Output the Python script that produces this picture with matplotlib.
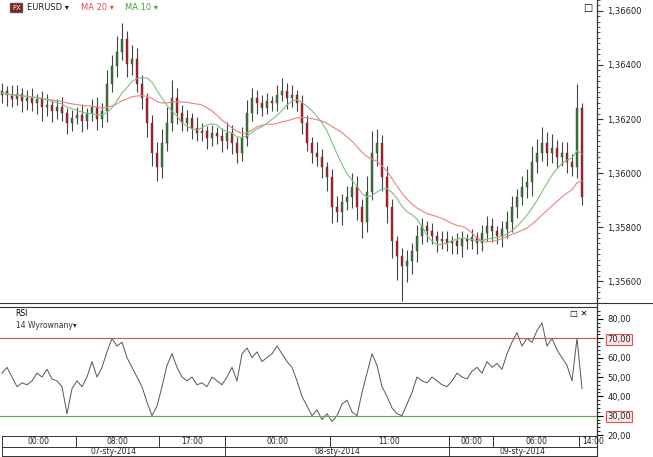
import matplotlib
matplotlib.use("Agg")
import matplotlib.pyplot as plt
import numpy as np
import pandas as pd
from matplotlib.lines import Line2D
from matplotlib.patches import Rectangle

first_open = 1.36290
closes = [1.36302,1.36287,1.36273,1.36294,1.36265,1.36276,1.36258,1.36273,1.36243,1.36251,
          1.36229,1.36243,1.36222,1.36185,1.36203,1.36214,1.36193,1.36222,1.36243,1.36200,
          1.36229,1.36331,1.36396,1.36447,1.36495,1.36404,1.36422,1.36331,1.36276,1.36185,
          1.36076,1.36021,1.36112,1.36185,1.36276,1.36222,1.36185,1.36203,1.36167,1.36149,
          1.36156,1.36131,1.36149,1.36138,1.36120,1.36149,1.36112,1.36076,1.36131,1.36222,
          1.36276,1.36258,1.36240,1.36265,1.36258,1.36287,1.36302,1.36276,1.36287,1.36258,
          1.36185,1.36112,1.36076,1.36058,1.36021,1.35985,1.35876,1.35858,1.35894,1.35912,
          1.35949,1.35876,1.35821,1.35930,1.36076,1.36112,1.35985,1.35876,1.35748,1.35694,
          1.35657,1.35676,1.35712,1.35767,1.35803,1.35785,1.35767,1.35748,1.35756,1.35741,
          1.35748,1.35730,1.35756,1.35748,1.35763,1.35741,1.35778,1.35803,1.35785,1.35767,
          1.35792,1.35821,1.35876,1.35912,1.35949,1.35967,1.36040,1.36076,1.36112,1.36076,
          1.36094,1.36058,1.36076,1.36040,1.36021,1.36240,1.35912]
# wick extensions beyond the body, in pips
upper_pips = [3,2,4,3,2,3,4,2,3,4,2,3,4,2,3,3,4,2,3,4,
              3,5,4,6,6,3,5,4,3,2,3,4,5,6,7,4,3,3,2,4,
              3,2,3,2,3,4,3,2,4,5,4,3,3,3,2,4,5,3,4,2,
              3,3,2,4,3,2,3,4,3,4,5,4,3,6,8,5,3,4,3,2,
              3,4,3,4,3,2,3,2,3,3,2,3,3,2,3,2,3,4,3,2,
              3,4,4,3,4,5,6,5,6,4,5,3,4,4,3,9,2]
lower_pips = [3,4,3,2,4,3,3,4,5,3,4,3,3,4,3,2,4,3,3,4,
              3,4,3,4,3,5,4,3,4,5,5,5,4,3,3,4,3,3,4,3,
              3,4,3,3,4,3,4,4,3,3,3,4,3,2,3,3,2,4,3,3,
              4,3,4,3,4,5,6,4,5,3,4,5,6,4,3,5,5,6,6,9,
              13,6,5,4,3,4,3,4,3,3,4,3,4,3,3,4,3,3,4,3,
              4,3,4,4,3,4,5,4,3,5,4,4,3,4,3,4,3]
rsi = [52,55,50,45,47,46,48,52,50,54,49,48,45,31,44,48,45,50,58,50,
       55,63,70,66,68,60,55,50,45,37,30,35,45,56,62,55,50,48,50,46,
       47,45,50,48,46,50,55,48,62,65,60,63,58,60,62,66,62,58,55,48,
       40,35,30,33,28,31,27,30,36,38,32,30,42,52,62,56,45,40,34,31,
       30,36,42,50,48,47,50,48,46,45,48,52,50,49,53,55,52,58,55,57,
       54,62,68,73,66,70,68,74,78,66,70,64,60,56,48,70,44]
price_label_ticks = [1.3560,1.3580,1.3600,1.3620,1.3640,1.3660]
rsi_ticks = [20,30,40,50,60,70,80]
time_labels = ["00:00","08:00","17:00","00:00","11:00","00:00","06:00","14:00"]
time_cells = [2,76,159,225,330,449,493,579,600]
date_labels = ["07-sty-2014","08-sty-2014","09-sty-2014"]
date_cells = [2,225,449,640]

W, H = 653, 457
fig = plt.figure(figsize=(6.53,4.57), dpi=100)
fig.patch.set_facecolor("white")
n = len(closes)
opens = [first_open] + closes[:-1]
highs = [max(o,c)+u*1e-4 for o,c,u in zip(opens,closes,upper_pips)]
lows = [min(o,c)-l*1e-4 for o,c,l in zip(opens,closes,lower_pips)]
idx = np.arange(n)
px = lambda x: (x-2)/5.0
xl = (px(0), px(597))

ax = fig.add_axes([0, 1-303/H, 597/W, 303/H])
for i in range(n):
    o, c = opens[i], closes[i]
    up = c >= o
    ax.vlines(i, lows[i], highs[i], color="#444444", lw=0.8, zorder=2)
    ax.add_patch(Rectangle((i-0.28, min(o,c)), 0.56, max(abs(c-o),1e-5),
                 facecolor="#2f7a2f" if up else "#c0141e", edgecolor="#444444", lw=0.3, zorder=3))
s = pd.Series([first_open]+closes)
ma20 = s.rolling(20, min_periods=1).mean().values[1:]
ma10 = s.rolling(10, min_periods=1).mean().values[1:]
ax.plot(idx, ma20, color="#f08080", lw=0.8, zorder=4)
ax.plot(idx, ma10, color="#7fbf7f", lw=0.8, zorder=4)
ax.set_xlim(*xl)
ax.set_ylim(1.35520, 1.36622)
ax.yaxis.tick_right()
ax.set_yticks(price_label_ticks)
ax.set_yticks([1.3554+k*0.0002 for k in range(56)], minor=True)
ax.set_yticklabels([("%.5f" % v).replace(".", ",") for v in price_label_ticks], fontsize=6, color="#222222")
ax.set_xticks([])
ax.tick_params(axis="y", which="major", length=4, color="#333333", pad=3)
ax.tick_params(axis="y", which="minor", length=2, color="#333333")
for sp in ["top","left","bottom"]:
    ax.spines[sp].set_visible(False)
ax.spines["right"].set_color("#333333")
ax.text(0.02, 0.975, "FX", transform=ax.transAxes, fontsize=5, color="white", va="center",
        bbox=dict(boxstyle="square,pad=0.25", fc="#8b1a1a", ec="#555555"))
ax.text(0.045, 0.975, "EURUSD \u25be", transform=ax.transAxes, fontsize=6, va="center", color="#222222")
ax.text(0.135, 0.975, "MA 20 \u25be", transform=ax.transAxes, fontsize=6, va="center", color="#e05050")
ax.text(0.21, 0.975, "MA 10 \u25be", transform=ax.transAxes, fontsize=6, va="center", color="#40a040")
ax.text(0.985, 0.975, "\u25a1", transform=ax.transAxes, fontsize=7, va="center", ha="center")

ax2 = fig.add_axes([0, 1-436/H, 597/W, 129/H])
ax2.plot(idx, rsi, color="#555555", lw=0.7)
ax2.axhline(70, color="#e05050", lw=0.8)
ax2.axhline(30, color="#50b050", lw=0.8)
ax2.set_xlim(*xl)
ax2.set_ylim(19.5, 86.2)
ax2.yaxis.tick_right()
ax2.set_yticks(rsi_ticks)
ax2.set_yticks(np.arange(20, 86, 2), minor=True)
ax2.set_yticklabels(["%d,00" % t for t in rsi_ticks], fontsize=6, color="#222222")
for t in ax2.get_yticklabels():
    if t.get_text() in ("70,00", "30,00"):
        t.set_bbox(dict(boxstyle="square,pad=0.15", fc="#fde8e8", ec="#e05050", lw=0.8))
ax2.tick_params(axis="y", which="major", length=4)
ax2.tick_params(axis="y", which="minor", length=2)
ax2.set_xticks([])
for sp in ["left","bottom"]:
    ax2.spines[sp].set_visible(False)
ax2.spines["top"].set_color("#333333")
ax2.text(0.025, 0.95, "RSI", transform=ax2.transAxes, fontsize=5.5, va="center")
ax2.text(0.027, 0.86, "14 Wyrownany\u25be", transform=ax2.transAxes, fontsize=5.5, va="center", color="#333333")
ax2.text(0.955, 0.95, "\u25a1 \u2715", transform=ax2.transAxes, fontsize=6, va="center")

fig.add_artist(Line2D([0, 1], [1-303/H]*2, color="#333333", lw=0.8))
fig.add_artist(Line2D([597/W]*2, [0, 1], color="#333333", lw=0.8))
def fy(y): return 1-y/H
for y in (436, 447, 456):
    fig.add_artist(Line2D([2/W, 597/W], [fy(y)]*2, color="#333333", lw=0.7))
for a in time_cells[:-1]:
    fig.add_artist(Line2D([a/W]*2, [fy(436), fy(447)], color="#333333", lw=0.7))
for a, b, lab in zip(time_cells[:-1], time_cells[1:], time_labels):
    fig.text((a+b)/2/W if b < 600 else (a+3)/W, fy(441.5), lab, fontsize=5.5,
             ha="center" if b < 600 else "left", va="center", color="#222222")
for a in date_cells[:-1]:
    fig.add_artist(Line2D([a/W]*2, [fy(447), fy(456)], color="#333333", lw=0.7))
for a, b, lab in zip(date_cells[:-1], date_cells[1:], date_labels):
    fig.text((a+min(b,597))/2/W, fy(452), lab, fontsize=5.5, ha="center", va="center", color="#222222")

fig.savefig("out.png", dpi=100)
